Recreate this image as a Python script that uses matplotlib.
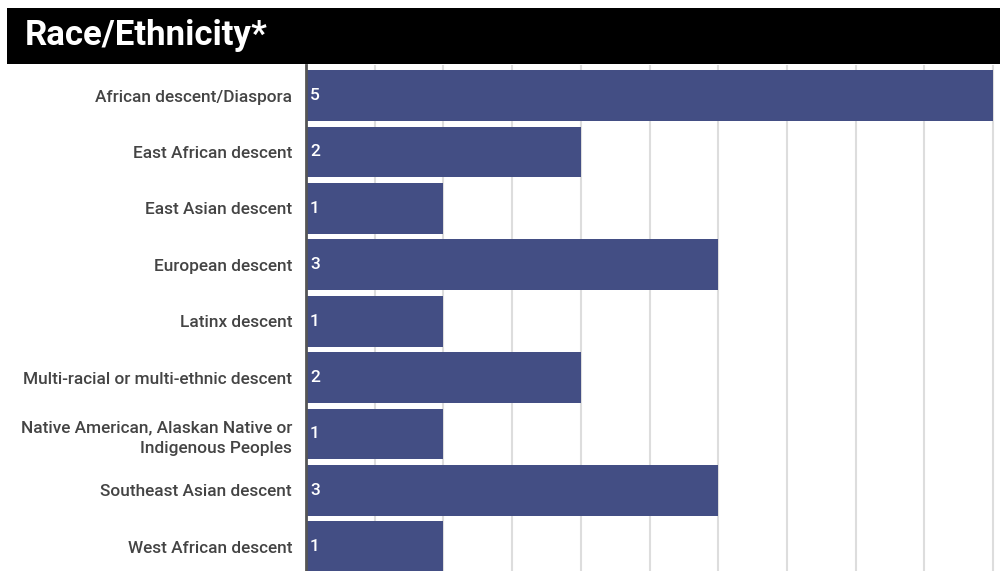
import matplotlib.pyplot as plt
import numpy as np

plt.rcParams['font.family'] = ['Roboto', 'DejaVu Sans']

categories = [
    "African descent/Diaspora",
    "East African descent",
    "East Asian descent",
    "European descent",
    "Latinx descent",
    "Multi-racial or multi-ethnic descent",
    "Native American, Alaskan Native or\nIndigenous Peoples",
    "Southeast Asian descent",
    "West African descent",
]
counts = [5, 2, 1, 3, 1, 2, 1, 3, 1]

bar_color = '#434e84'

fig = plt.figure(figsize=(10, 5.71), dpi=100)

# black title bar
fig.patches.append(plt.Rectangle((0.007, 0.888), 0.993, 0.098, transform=fig.transFigure,
                                 facecolor='black', edgecolor='none'))
fig.text(0.025, 0.937, "Race/Ethnicity*", color='white', fontsize=25, fontweight='bold',
         va='center', ha='left')

ax = fig.add_axes([0.306, 0.0, 0.694, 0.886])
y = np.arange(len(categories))
ax.barh(y, counts, height=0.9, color=bar_color, zorder=2)

for yi, v in zip(y, counts):
    ax.text(0.03, yi, str(v), color='white', fontsize=12.5, fontweight='medium',
            va='center', ha='left', zorder=3)

ax.set_xlim(0, 5.05)
ax.set_ylim(8.43, -0.54)
ax.set_xticks(np.arange(0.5, 5.01, 0.5))
ax.xaxis.grid(True, color='#dddddd', linewidth=1.5, zorder=0)
ax.tick_params(axis='x', length=0, labelbottom=False)
ax.set_yticks(y)
ax.set_yticklabels(categories, fontsize=12.4, color='#444444', ha='right',
                   fontweight='medium', linespacing=1.45)
ax.tick_params(axis='y', length=0, pad=10)

for s in ['top', 'right', 'bottom']:
    ax.spines[s].set_visible(False)
ax.spines['left'].set_color('#555555')
ax.spines['left'].set_linewidth(2)
ax.spines['left'].set_zorder(4)

fig.savefig('out.png', dpi=100)
